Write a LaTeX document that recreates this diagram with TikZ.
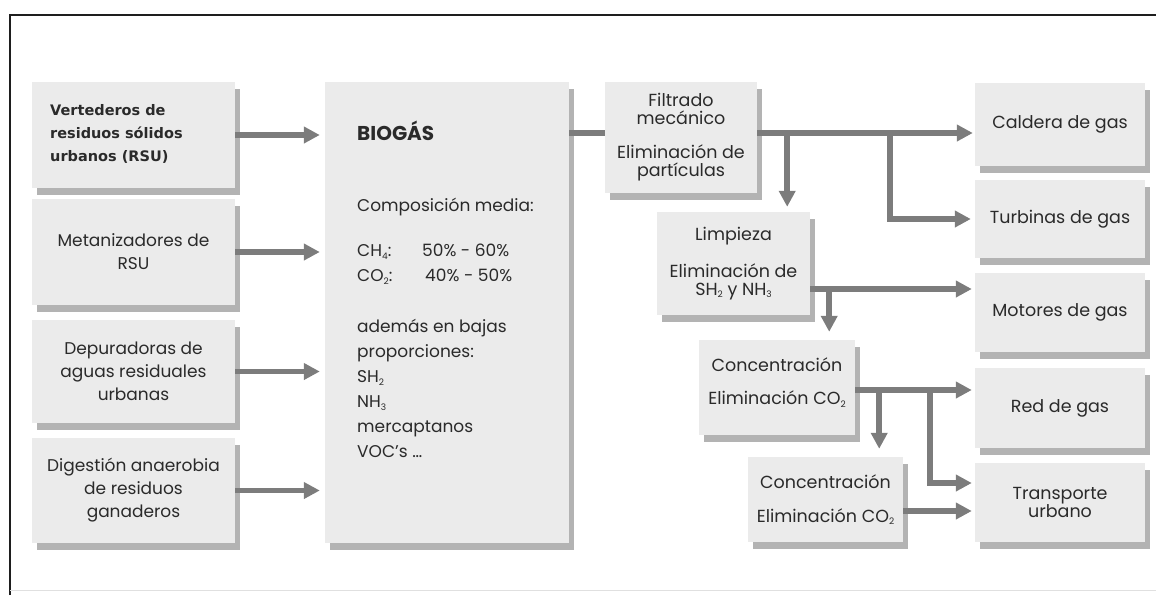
\documentclass[tikz,border=0pt]{standalone}
\usepackage{fontspec}
\setmainfont{Poppins}
\newfontfamily\headfont{DejaVu Sans}
\usetikzlibrary{arrows.meta,shadows}

\definecolor{boxfill}{HTML}{EBEBEB}
\definecolor{boxshade}{HTML}{B3B3B3}
\definecolor{flow}{HTML}{7C7C7C}
\definecolor{ink}{HTML}{2A2A2A}
\definecolor{frame}{HTML}{1E1E1E}

% small chemical index, set lower and smaller than a plain subscript
\newcommand\chemidx[1]{\raisebox{-0.25ex}{\fontsize{9}{9}\selectfont #1}}

\begin{document}
\begin{tikzpicture}[x=1pt,y=-1pt,
  panel/.style={fill=boxfill, draw=none, inner sep=0pt, text=ink, align=center,
    font=\fontsize{17.5}{18}\selectfont,
    drop shadow={shadow xshift=5pt,shadow yshift=-7pt,fill=boxshade,opacity=1}},
  srcpanel/.style={panel, minimum width=203pt, minimum height=106pt,
    font=\fontsize{17}{23}\selectfont},
  outpanel/.style={panel, minimum width=170pt, minimum height=80pt},
  flowline/.style={draw=flow, line width=5.5pt},
  flowarrow/.style={flowline, -{Triangle[length=16pt,width=16pt]}},
]
\useasboundingbox (0,0) rectangle (1156,595);

% outer frame
\draw[frame, line width=2.5pt] (10,595) -- (10,15) -- (1156,15);
\draw[black!12, line width=1pt] (10,590) -- (1156,590);

% sources
\node[srcpanel] (v1) at (133.5,135) {};
\node[anchor=west, inner sep=0pt, align=left, text=ink,
      font=\headfont\bfseries\fontsize{14.5}{23}\selectfont] (v1text) at (50,134)
  {Vertederos de\\residuos sólidos\\urbanos (RSU)};
\node[srcpanel] (v2) at (133.5,252) {Metanizadores de\\RSU};
\node[srcpanel, minimum height=103pt] (v3) at (133.5,371.5)
  {Depuradoras de\\aguas residuales\\urbanas};
\node[srcpanel, minimum height=105pt] (v4) at (133.5,490.5)
  {Digestión anaerobia\\de residuos\\ganaderos};

% biogas composition
\node[panel, minimum width=244pt, minimum height=461pt] (bio) at (447,312.5) {};
\node[anchor=north west, inner sep=0pt, align=left, text=ink,
      font=\fontsize{17}{25}\selectfont] (biotext) at (357,121)
  {{\fontsize{20}{25}\selectfont\bfseries BIOGÁS}\\[46pt]
   Composición media:\\[20pt]
   \makebox[65pt][l]{CH\chemidx{4}:}50\% - 60\%\\
   \makebox[68pt][l]{CO\chemidx{2}:}40\% - 50\%\\[26pt]
   además en bajas\\
   proporciones:\\
   SH\chemidx{2}\\
   NH\chemidx{3}\\
   mercaptanos\\
   VOC’s \dots};

% treatment stages
\node[panel, minimum width=152pt, minimum height=111pt] (filt) at (681,137.5)
  {Filtrado\\mecánico\\[16pt]Eliminación de\\partículas};
\node[panel, minimum width=153pt, minimum height=103pt] (limp) at (733.5,263.5)
  {Limpieza\\[17pt]Eliminación de\\SH\chemidx{2} y NH\chemidx{3}};
\node[panel, minimum width=156pt, minimum height=95pt] (conc1) at (777,387.5)
  {Concentración\\[15pt]Eliminación CO\chemidx{2}\\[-6pt]\mbox{}};
\node[panel, minimum width=155pt, minimum height=85pt] (conc2) at (825.5,499.5)
  {Concentración\\[16pt]Eliminación CO\chemidx{2}};

% end uses
\node[outpanel, minimum height=83pt] (cald) at (1060,124.5) {Caldera de gas};
\node[outpanel, minimum height=78pt] (turb) at (1060,219) {Turbinas de gas};
\node[outpanel, minimum height=79pt] (mot) at (1060,312.5) {Motores de gas};
\node[outpanel] (red) at (1060,408) {Red de gas};
\node[outpanel, minimum height=79pt] (trans) at (1060,502.5) {Transporte\\urbano};

% feed lines into the biogas box
\foreach \s in {v1,v2,v3,v4}
  \draw[flowarrow, shorten >=5pt] (\s.east) -- (\s.east -| bio.west);

% junction points on the outgoing lines
\coordinate (fin)  at ([yshift=4.5pt]filt.west);
\coordinate (fout) at ([yshift=4.5pt]filt.east);
\coordinate (lout) at ([yshift=-25.5pt]limp.east);
\coordinate (c1out) at ([yshift=-2.5pt]conc1.east);
\coordinate (c2out) at ([yshift=-11.5pt]conc2.east);

\draw[flowline] (bio.east |- fin) -- (fin);
\draw[flowarrow, shorten >=2pt] (fout) -- (fout -| cald.west);
\draw[flowarrow, shorten >=5pt] ([xshift=30pt]fout) -- ([xshift=30pt]fout |- limp.north);
\draw[flowarrow, shorten >=4pt] ([xshift=133pt]fout) |- (turb.west);

\draw[flowarrow, shorten >=3pt] (lout) -- (lout -| mot.west);
\draw[flowarrow, shorten >=8pt] ([xshift=19pt]lout) -- ([xshift=19pt]lout |- conc1.north);

\draw[flowarrow, shorten >=3pt] (c1out) -- (c1out -| red.west);
\draw[flowarrow, shorten >=8pt] ([xshift=24pt]c1out) -- ([xshift=24pt]c1out |- conc2.north);
\draw[flowarrow, shorten >=3pt] ([xshift=75pt]c1out) |- ([yshift=19.5pt]trans.west);

\draw[flowarrow, shorten >=3pt] (c2out) -- (c2out -| trans.west);
\end{tikzpicture}
\end{document}
